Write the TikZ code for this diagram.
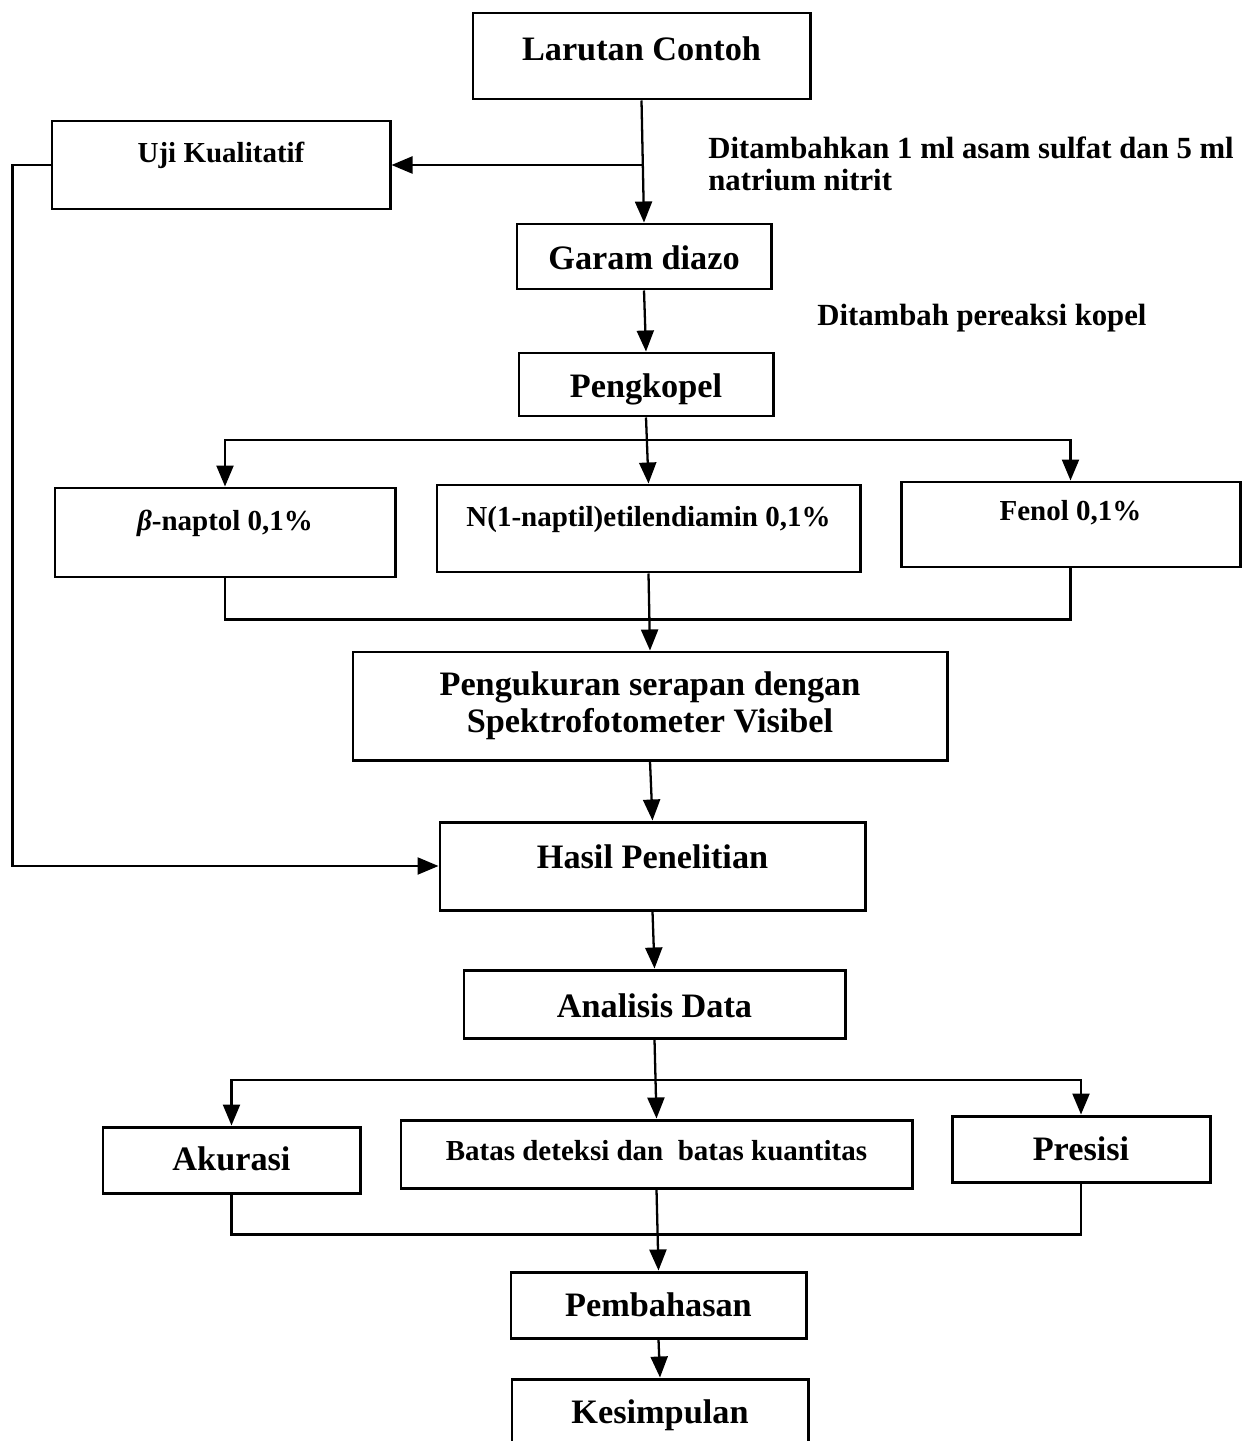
\documentclass[tikz,border=0pt]{standalone}
\usepackage{fontspec}
\setmainfont{Liberation Serif}
\usetikzlibrary{arrows.meta}

\tikzset{
    kotak/.style={draw, line width=1.7pt, inner sep=0pt, font=\bfseries\fontsize{19.5}{21}\selectfont},
    kotakkecil/.style={kotak, font=\bfseries\fontsize{16.5}{18}\selectfont},
    garis/.style={line width=1.3pt},
    panah/.style={garis, -{Triangle[length=4.2mm,width=3.4mm]}},
    keterangan/.style={inner sep=0pt, font=\bfseries\fontsize{17.5}{18.7}\selectfont}
}

\begin{document}
\begin{tikzpicture}[x=0.2mm, y=-0.2mm]
                \useasboundingbox (0,0) rectangle (1242,1441);

                % kotak-kotak
                \node [kotak, minimum width=67.4mm, text height=9.6mm, text depth=7.6mm] (larutan) at (641.5,56) {Larutan Contoh};
                \node [kotakkecil, minimum width=67.6mm, text height=8.4mm, text depth=9.2mm] (uji) at (221,165) {Uji Kualitatif};
                \node [kotak, minimum width=50.8mm, text height=9mm, text depth=4mm] (garam) at (644,256.5) {Garam diazo};
                \node [kotak, minimum width=50.8mm, text height=8.8mm, text depth=3.8mm] (pengkopel) at (646,384.5) {Pengkopel};

                \node [kotakkecil, minimum width=68mm, text height=8.4mm, text depth=9.4mm] (naptol) at (225,532.5) {\textit{β}-naptol 0,1\%};
                \node [kotakkecil, minimum width=84.6mm, text height=8.2mm, text depth=9.2mm] (naptil) at (648.5,528.5) {N(1-naptil)etilendiamin 0,1\%};
                \node [kotakkecil, minimum width=67.8mm, text height=7.6mm, text depth=9.4mm] (fenol) at (1070.5,524.5) {Fenol 0,1\%};

                \node [kotak, minimum width=118.8mm, minimum height=21.6mm, align=center] (ukur) at (650,706) {Pengukuran serapan dengan\\Spektrofotometer Visibel};
                \node [kotak, minimum width=85mm, text height=9.2mm, text depth=8.4mm] (hasil) at (652.5,866) {Hasil Penelitian};
                \node [kotak, minimum width=76.2mm, text height=9.4mm, text depth=4.2mm] (analisis) at (654.5,1004) {Analisis Data};

                \node [kotak, minimum width=51.4mm, text height=8.6mm, text depth=4.6mm] (akurasi) at (231.5,1160) {Akurasi};
                \node [kotakkecil, minimum width=102.2mm, text height=8mm, text depth=5.6mm] (batas) at (656.5,1154) {Batas deteksi dan \ batas kuantitas};
                \node [kotak, minimum width=51.6mm, text height=8.8mm, text depth=4.4mm] (presisi) at (1081,1149) {Presisi};

                \node [kotak, minimum width=59mm, text height=8.8mm, text depth=4.4mm] (bahas) at (658.5,1305) {Pembahasan};
                \node [kotak, minimum width=59.2mm, text height=8.8mm, text depth=5.4mm] (simpul) at (660,1414.5) {Kesimpulan};

                % keterangan
                \node [keterangan, anchor=north west, align=left] (ket1) at (708,136) {Ditambahkan 1 ml asam sulfat dan 5 ml\\natrium nitrit};
                \node [keterangan, anchor=base west] (ket2) at (817,325) {Ditambah pereaksi kopel};

                % titik cabang
                \coordinate (cabang1) at (646,440);
                \coordinate (cabang2) at (656,1080);

                % panah
                \draw [panah] (larutan.south) -- (garam.north);
                \draw [panah] (uji.east -| larutan.south) -- (uji.east);
                \draw [panah] (uji.west) -- ++(-38,0) |- (hasil.west);
                \draw [panah] (garam.south) -- (pengkopel.north);

                \draw [panah] (pengkopel.south) -- (naptil.north);
                \draw [panah] (cabang1) -| (naptol.north);
                \draw [panah] (cabang1) -| (fenol.north);
                \draw [garis] (naptol.south) -- ++(0,41) -| (fenol.south);
                \draw [panah] (naptil.south) -- (ukur.north);

                \draw [panah] (ukur.south) -- (hasil.north);
                \draw [panah] (hasil.south) -- (analisis.north);

                \draw [panah] (analisis.south) -- (batas.north);
                \draw [panah] (cabang2) -| (akurasi.north);
                \draw [panah] (cabang2) -| (presisi.north);
                \draw [garis] (akurasi.south) -- ++(0,40) -| (presisi.south);
                \draw [panah] (batas.south) -- (bahas.north);
                \draw [panah] (bahas.south) -- (simpul.north);
\end{tikzpicture}
\end{document}
